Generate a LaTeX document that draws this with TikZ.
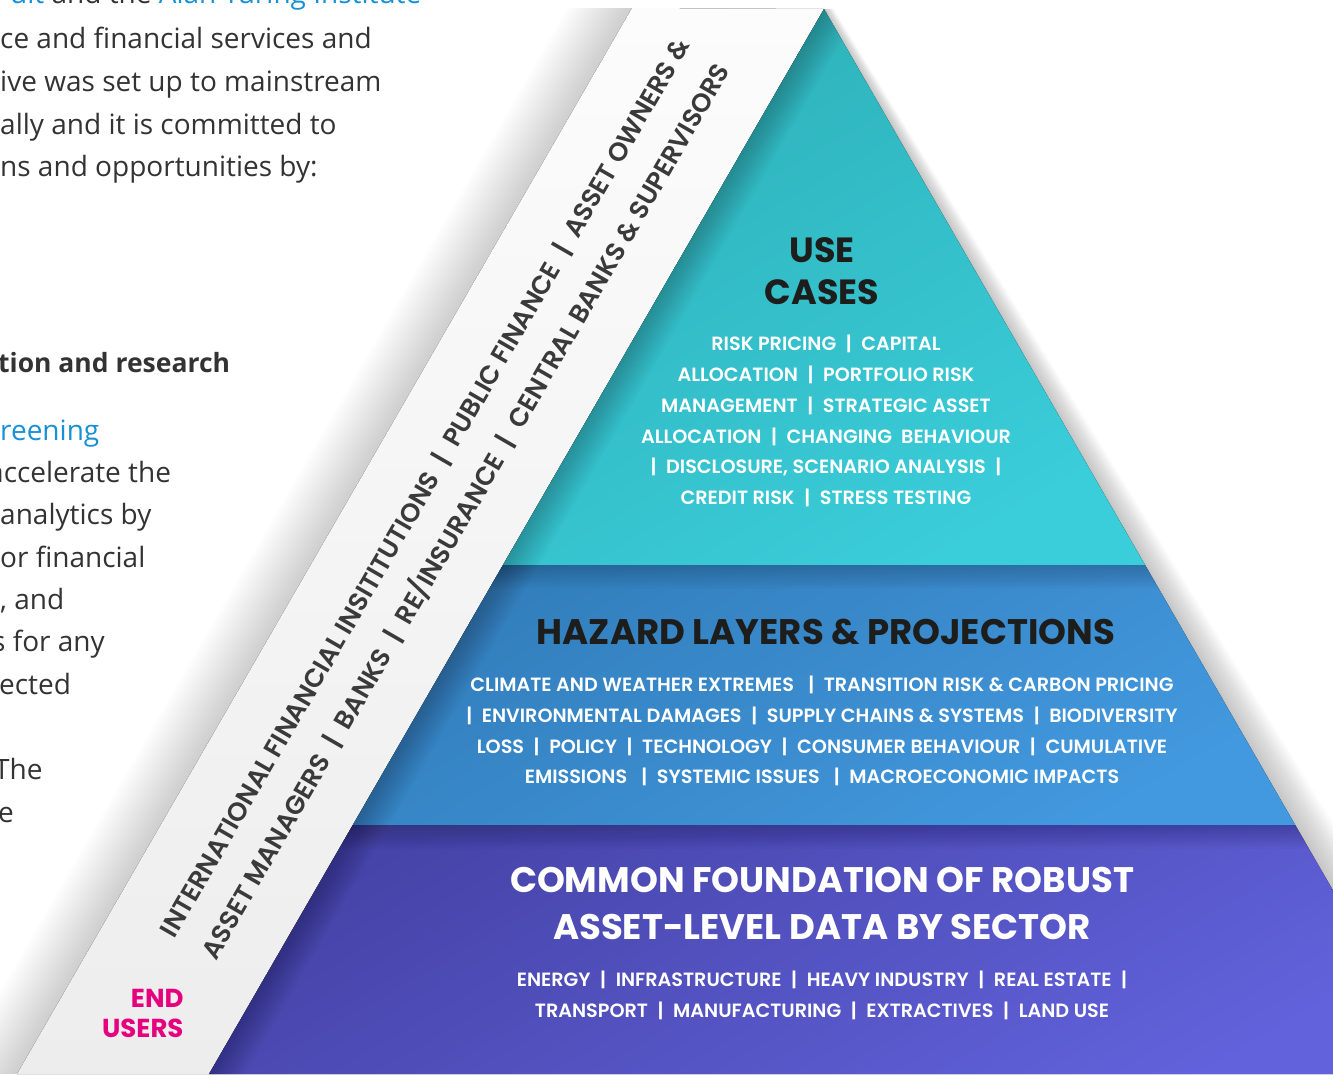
\documentclass[tikz,border=0pt]{standalone}
\usepackage{fontspec}
\setmainfont{Poppins}
\newfontfamily\pysemi{Poppins SemiBold}
\newfontfamily\proseface{Open Sans}
\usetikzlibrary{calc}

\definecolor{pyteal}{RGB}{46,177,185}
\definecolor{pytealb}{RGB}{58,205,218}
\definecolor{pyblue}{RGB}{50,126,188}
\definecolor{pyblueb}{RGB}{67,153,223}
\definecolor{pyviolet}{RGB}{70,68,168}
\definecolor{pyvioletb}{RGB}{98,98,220}
\definecolor{pyink}{RGB}{29,29,27}
\definecolor{pygrey}{RGB}{58,58,58}
\definecolor{pybody}{RGB}{51,51,51}
\definecolor{pylink}{RGB}{24,144,214}
\definecolor{pymagenta}{RGB}{230,0,126}
\definecolor{pystrip}{RGB}{252,252,252}
\definecolor{pystripb}{RGB}{237,237,237}

\newcommand{\sepbar}{\hspace{0.5em}|\hspace{0.5em}}

\begin{document}
\begin{tikzpicture}[x=1pt,y=-1pt,
  heading/.style={font=\bfseries\fontsize{35.5}{42}\selectfont,text=pyink,align=center},
  items/.style={font=\pysemi\fontsize{19.2}{30.8}\selectfont,text=white,align=center},
  prose/.style={anchor=base west,inner sep=0pt,font=\proseface\fontsize{28}{34}\selectfont,text=pybody},
  softshade/.style={fill=black,opacity=#1}
]
\path[use as bounding box] (0,0) rectangle (1333,1074);
\clip (0,0) rectangle (1333,1074);

% pyramid and strip corners
\coordinate (apex) at (824,9);
\coordinate (bl) at (209,1074);
\coordinate (br) at (1439,1074);
\coordinate (ucl) at ($(apex)!0.5221!(bl)$);
\coordinate (ucr) at ($(apex)!0.5221!(br)$);
\coordinate (hzl) at ($(apex)!0.7662!(bl)$);
\coordinate (hzr) at ($(apex)!0.7662!(br)$);
\coordinate (stl) at (632,8);
\coordinate (sbl) at (17,1074);

% running text of the page
\node[prose] (p1) at (10,3) {\textcolor{pylink}{uit} and the \textcolor{pylink}{Alan Turing Institute}};
\node[prose] (p2) at (0,48) {ce and financial services and};
\node[prose] (p3) at (0,91) {ive was set up to mainstream};
\node[prose] (p4) at (0,134) {ally and it is committed to};
\node[prose] (p5) at (0,176) {ns and opportunities by:};
\node[prose,font=\proseface\bfseries\fontsize{26.5}{34}\selectfont] (p6) at (-2,372) {tion and research};
\node[prose,text=pylink] (p7) at (0,440) {reening};
\node[prose] (p8) at (-12,482) {accelerate the};
\node[prose] (p9) at (0,524) {analytics by};
\node[prose] (p10) at (0,567) {or financial};
\node[prose] (p11) at (0,609) {, and};
\node[prose] (p12) at (-8,651) {s for any};
\node[prose] (p13) at (-1,694) {ected};
\node[prose] (p14) at (-6,779) {The};
\node[prose] (p15) at (-2,822) {e};

% soft shadows behind the strip and the pyramid
\foreach \d in {4,8,...,64}
  \fill[softshade=0.012] ($(stl)+(-\d,0)$) -- (stl) -- (sbl) -- ($(sbl)+(-\d,0)$) -- cycle;
\foreach \d in {3,6,...,48}
  \fill[softshade=0.014] (apex) -- (br) -- ($(br)+(\d,0)$) -- ($(apex)+(0.2*\d,0)$) -- cycle;

% end users strip
\fill[top color=pystrip,bottom color=pystripb] (stl) -- (apex) -- (bl) -- (sbl) -- cycle;

% the three layers
\fill[top color=pyteal,bottom color=pytealb,shading angle=30] (apex) -- (ucr) -- (ucl) -- cycle;
\fill[top color=pyblue,bottom color=pyblueb,shading angle=30] (ucl) -- (ucr) -- (hzr) -- (hzl) -- cycle;
\fill[top color=pyviolet,bottom color=pyvioletb,shading angle=30] (hzl) -- (hzr) -- (br) -- (bl) -- cycle;

\begin{scope}
  \clip (apex) -- (br) -- (bl) -- cycle;
  \foreach \d in {3,6,...,36}
    \fill[softshade=0.02] (apex) -- (bl) -- ($(bl)+(\d,0)$) -- ($(apex)+(\d,0)$) -- cycle;
  \foreach \d in {2,4,...,24} {
    \fill[softshade=0.015] ($(ucl)+(-50,0)$) rectangle ($(ucr)+(50,\d)$);
    \fill[softshade=0.015] ($(hzl)+(-50,0)$) rectangle ($(hzr)+(50,\d)$);
  }
\end{scope}

% labels
\node[heading,font=\bfseries\fontsize{35}{42}\selectfont] (usecases) at (822,271) {USE\\CASES};
\node[items] (uselist) at (826,421) {RISK PRICING\sepbar CAPITAL\\
  ALLOCATION\sepbar PORTFOLIO RISK\\
  MANAGEMENT\sepbar STRATEGIC ASSET\\
  ALLOCATION\sepbar CHANGING\ \ BEHAVIOUR\\
  |\hspace{0.5em}DISCLOSURE, SCENARIO ANALYSIS\sepbar\\
  CREDIT RISK\sepbar STRESS TESTING};

\node[heading] (hazard) at (826,632) {HAZARD LAYERS \& PROJECTIONS};
\node[items] (hazlist) at (822,731) {CLIMATE AND WEATHER EXTREMES\ \sepbar TRANSITION RISK \& CARBON PRICING\\
  |\hspace{0.5em}ENVIRONMENTAL DAMAGES\sepbar SUPPLY CHAINS \& SYSTEMS\sepbar BIODIVERSITY\\
  LOSS\sepbar POLICY\sepbar TECHNOLOGY\sepbar CONSUMER BEHAVIOUR\sepbar CUMULATIVE\\
  EMISSIONS\ \sepbar SYSTEMIC ISSUES\ \sepbar MACROECONOMIC IMPACTS};

\node[heading,text=white,font=\bfseries\fontsize{35.5}{47}\selectfont] (found) at (822,903) {COMMON FOUNDATION OF ROBUST\\ASSET-LEVEL DATA BY SECTOR};
\node[items] (sectors) at (822,995) {ENERGY\sepbar INFRASTRUCTURE\sepbar HEAVY INDUSTRY\sepbar REAL ESTATE\sepbar\\
  TRANSPORT\sepbar MANUFACTURING\sepbar EXTRACTIVES\sepbar LAND USE};

\node[font=\pysemi\fontsize{26}{47}\selectfont,text=pygrey,rotate=60,align=center] (users) at (446,500)
  {INTERNATIONAL FINANCIAL INSITITUTIONS\sepbar PUBLIC FINANCE\sepbar ASSET OWNERS \&\\
   ASSET MANAGERS\sepbar BANKS\sepbar RE/INSURANCE\sepbar CENTRAL BANKS \& SUPERVISORS};
\node[font=\bfseries\fontsize{26}{30}\selectfont,text=pymagenta,align=right,anchor=east] (endusers) at (187,1013) {END\\USERS};
\end{tikzpicture}
\end{document}
